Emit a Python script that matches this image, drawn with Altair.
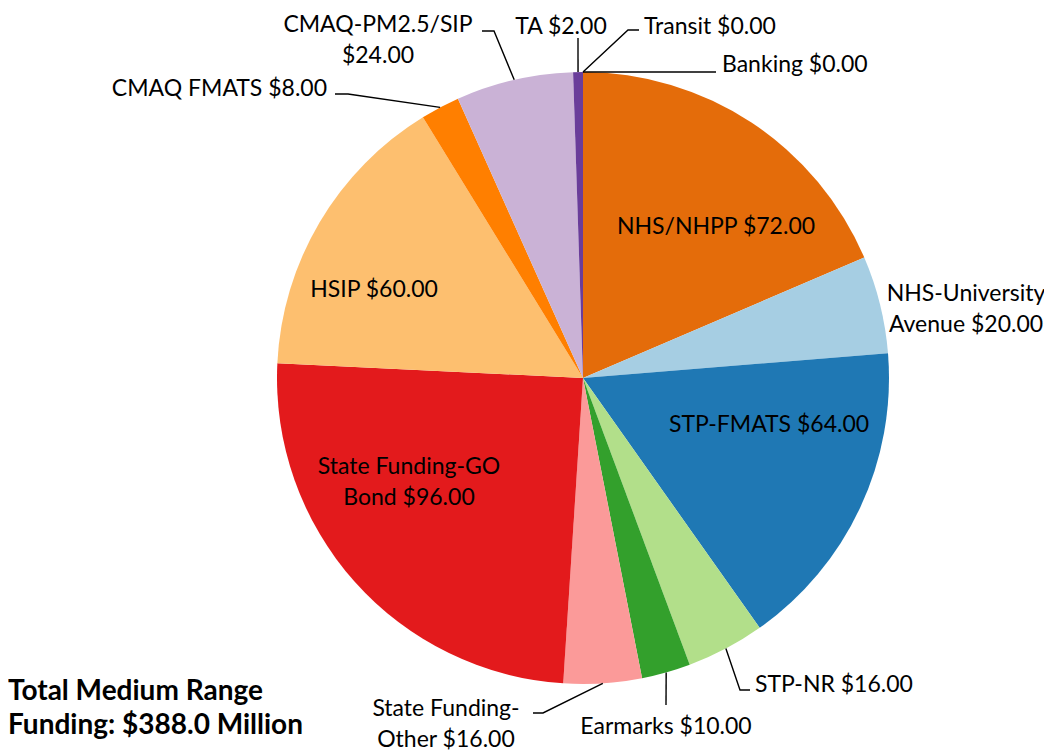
import math
import altair as alt
import pandas as pd

# ---- data -------------------------------------------------------------
categories = ["NHS/NHPP", "NHS-University Avenue", "STP-FMATS", "STP-NR", "Earmarks",
              "State Funding-Other", "State Funding-GO Bond", "HSIP", "CMAQ FMATS",
              "CMAQ-PM2.5/SIP", "TA", "Transit", "Banking"]
values = [72, 20, 64, 16, 10, 16, 96, 60, 8, 24, 2, 0, 0]
colors = ["#E46C0A", "#A6CEE3", "#1F78B4", "#B2DF8A", "#33A02C", "#FB9A99", "#E31A1C",
          "#FDBF6F", "#FF7F00", "#CAB2D6", "#6A3D9A", "#FFFF99", "#B15928"]
# how each label's text is broken into lines
label_lines = {
    "NHS-University Avenue": "NHS-University\nAvenue",
    "State Funding-GO Bond": "State Funding-GO\nBond",
    "State Funding-Other": "State Funding-\nOther",
    "CMAQ-PM2.5/SIP": "CMAQ-PM2.5/SIP\n",
}
total_text = "Total Medium Range\nFunding: $388.0 Million"

# ---- layout (pixels, relative to pie centre) -------------------------
W, H = 1036, 743
CX, CY, R = 575, 370, 306
FONT = "Lato"
FS = 23
LH = 31
DY = 2  # small vertical nudge for text baseline
# label anchor (dx, dy of first line), alignment, leader elbow/end points
layout = {
    "NHS/NHPP": dict(pos=(133, -153), align="center", leader=None),
    "NHS-University Avenue": dict(pos=(383, -86), align="center", leader=None),
    "STP-FMATS": dict(pos=(186, 45), align="center", leader=None),
    "STP-NR": dict(pos=(172, 305), align="left", leader=[(157, 312), (167, 312)]),
    "Earmarks": dict(pos=(83, 347), align="center", leader=[(83, 327)]),
    "State Funding-Other": dict(pos=(-137, 329), align="center", leader=[(-40, 335), (-50, 335)]),
    "State Funding-GO Bond": dict(pos=(-174, 87), align="center", leader=None),
    "HSIP": dict(pos=(-209, -90), align="center", leader=None),
    "CMAQ FMATS": dict(pos=(-256, -291), align="right", leader=[(-235, -284), (-248, -284)]),
    "CMAQ-PM2.5/SIP": dict(pos=(-205, -355), align="center", leader=[(-89, -347), (-101, -347)]),
    "TA": dict(pos=(-22, -353), align="center", leader=[(-5, -340)]),
    "Transit": dict(pos=(61, -353), align="left", leader=[(45, -348), (56, -348)]),
    "Banking": dict(pos=(139, -315), align="left", leader=[(133, -306)]),
}

# ---- tables -----------------------------------------------------------
total = sum(values)
pie_df = pd.DataFrame({"category": categories, "value": values, "idx": range(len(values))})

text_rows, line_rows = [], []
cum = 0.0
for i, (cat, v) in enumerate(zip(categories, values)):
    mid = (cum + v / 2) / total * 2 * math.pi
    cum += v
    lay = layout[cat]
    base = label_lines.get(cat, cat)
    txt = (base + ("" if base.endswith("\n") else " ") + f"${v:.2f}")
    text_rows.append(dict(label=txt, tx=CX + lay["pos"][0], ty=CY + lay["pos"][1] + DY,
                          align=lay["align"]))
    if lay["leader"]:
        pts = [(R * math.sin(mid), -R * math.cos(mid))] + lay["leader"]
        for s, (dx, dy) in enumerate(pts):
            line_rows.append(dict(cat=cat, step=s, lx=CX + dx, ly=CY + dy))

text_df = pd.DataFrame(text_rows)
line_df = pd.DataFrame(line_rows)
total_df = pd.DataFrame({"label": [total_text], "tx": [0], "ty": [684]})

# ---- chart ------------------------------------------------------------
pie = alt.Chart(pie_df).mark_arc(radius=R).encode(
    theta=alt.Theta("value:Q", stack=True),
    color=alt.Color("category:N", scale=alt.Scale(domain=categories, range=colors), legend=None),
    order=alt.Order("idx:Q"),
    x=alt.value(CX),
    y=alt.value(CY),
)

leaders = alt.Chart(line_df).mark_line(color="black", strokeWidth=1.4).encode(
    x=alt.X("lx:Q", scale=None, axis=None),
    y=alt.Y("ly:Q", scale=None, axis=None),
    detail="cat:N",
    order="step:Q",
)

def text_layer(align):
    return alt.Chart(text_df).transform_filter(alt.datum.align == align).mark_text(
        align=align, baseline="middle", font=FONT, fontSize=FS, lineBreak="\n",
        lineHeight=LH, color="black",
    ).encode(
        x=alt.X("tx:Q", scale=None, axis=None),
        y=alt.Y("ty:Q", scale=None, axis=None),
        text="label:N",
    )

total_label = alt.Chart(total_df).mark_text(
    align="left", baseline="middle", font=FONT, fontSize=28, fontWeight="bold",
    lineBreak="\n", lineHeight=34, color="black",
).encode(
    x=alt.X("tx:Q", scale=None, axis=None),
    y=alt.Y("ty:Q", scale=None, axis=None),
    text="label:N",
)

chart = alt.layer(
    pie, leaders, text_layer("center"), text_layer("left"), text_layer("right"), total_label
).properties(width=W, height=H, padding=0, autosize="none").configure_view(stroke=None)

chart.save("out.html", embed_options={"renderer": "svg", "actions": False})
